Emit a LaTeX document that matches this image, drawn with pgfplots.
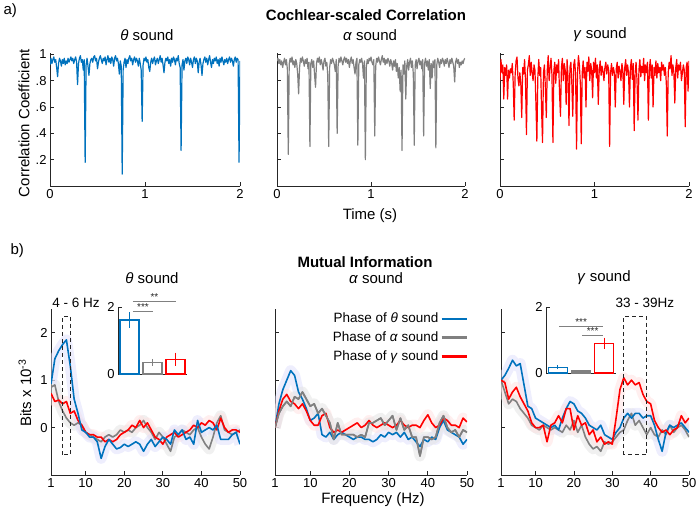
\documentclass[border=0pt]{standalone}
\usepackage{fontspec}
\setmainfont{Liberation Sans}
\usepackage{pgfplots}
\usepackage{pgfplotstable}
\pgfplotsset{compat=1.18}
\newcommand{\fs}[1]{\fontsize{#1bp}{#1bp}\selectfont}
\definecolor{mblue}{HTML}{0072BD}
\definecolor{mred}{HTML}{FF0000}
\definecolor{mgray}{HTML}{808080}
\definecolor{axc}{HTML}{262626}
\definecolor{bblue}{RGB}{222,222,252}
\definecolor{bred}{RGB}{255,224,224}
\definecolor{bgray}{RGB}{226,226,226}

\pgfplotstableread[row sep=\\]{
f b g r\\
1 0.92 0.85 0.72\\ 2 1.45 0.90 0.55\\ 3 1.62 0.55 0.58\\ 4 1.75 0.35 0.50\\ 5 1.85 0.20 0.55\\
6 1.30 0.10 0.30\\ 7 0.60 0.05 0.35\\ 8 0.30 0.10 0.15\\ 9 -0.05 0.05 0.05\\ 10 -0.10 -0.10 -0.10\\
11 -0.20 -0.15 -0.15\\ 12 -0.20 -0.20 -0.15\\ 13 -0.30 -0.25 -0.20\\ 14 -0.65 -0.30 -0.20\\ 15 -0.40 -0.20 -0.30\\
16 -0.25 -0.15 -0.25\\ 17 -0.35 -0.20 -0.30\\ 18 -0.45 -0.15 -0.25\\ 19 -0.42 -0.05 -0.15\\ 20 -0.35 -0.10 -0.10\\
21 -0.40 -0.05 -0.05\\ 22 -0.35 -0.10 0.05\\ 23 -0.30 0.00 0.00\\ 24 -0.35 0.05 0.15\\ 25 -0.50 0.15 0.00\\
26 -0.35 0.00 0.10\\ 27 -0.25 -0.10 -0.05\\ 28 -0.40 -0.25 -0.20\\ 29 -0.30 -0.10 -0.25\\ 30 -0.20 -0.20 -0.35\\
31 -0.25 -0.35 -0.20\\ 32 -0.35 -0.50 -0.15\\ 33 -0.05 -0.20 -0.10\\ 34 -0.15 -0.15 -0.20\\ 35 -0.05 -0.05 -0.15\\
36 -0.25 -0.10 -0.10\\ 37 -0.20 -0.15 -0.05\\ 38 -0.35 -0.05 0.05\\ 39 0.15 0.00 0.00\\ 40 -0.10 -0.20 0.10\\
41 -0.05 -0.35 0.05\\ 42 0.00 -0.45 0.15\\ 43 -0.05 -0.20 0.10\\ 44 0.05 0.10 -0.05\\ 45 -0.25 0.25 0.20\\
46 -0.25 -0.05 0.00\\ 47 -0.25 -0.10 -0.10\\ 48 -0.15 -0.15 -0.05\\ 49 -0.10 -0.10 -0.05\\ 50 -0.35 -0.05 -0.10\\
}\tblA

\pgfplotstableread[row sep=\\]{
f b g r\\
1 0.00 0.00 0.00\\ 2 0.50 0.30 0.35\\ 3 0.80 0.45 0.60\\ 4 1.00 0.55 0.70\\ 5 1.20 0.45 0.55\\
6 1.10 0.65 0.50\\ 7 0.75 0.60 0.40\\ 8 0.60 0.75 0.50\\ 9 0.40 0.60 0.35\\ 10 0.15 0.45 0.15\\
11 0.20 0.50 0.05\\ 12 0.30 0.30 0.05\\ 13 -0.15 0.40 0.25\\ 14 -0.20 0.25 0.30\\ 15 -0.10 0.10 0.00\\
16 -0.25 -0.25 -0.10\\ 17 -0.15 0.10 -0.05\\ 18 -0.10 -0.15 -0.10\\ 19 -0.15 -0.15 -0.05\\ 20 -0.20 -0.15 0.00\\
21 -0.25 -0.15 0.05\\ 22 -0.20 -0.20 0.10\\ 23 -0.20 -0.15 0.00\\ 24 -0.25 -0.20 0.05\\ 25 -0.25 0.10 0.15\\
26 -0.30 0.10 0.05\\ 27 -0.25 0.15 0.00\\ 28 -0.15 0.20 0.05\\ 29 -0.20 0.05 0.10\\ 30 -0.10 0.15 0.05\\
31 -0.15 0.25 0.00\\ 32 -0.10 -0.05 0.05\\ 33 -0.20 0.20 0.15\\ 34 -0.10 -0.05 0.05\\ 35 -0.25 0.05 0.00\\
36 -0.20 -0.20 0.05\\ 37 -0.30 -0.20 0.05\\ 38 -0.40 -0.60 0.00\\ 39 -0.25 -0.20 0.15\\ 40 -0.30 -0.20 0.27\\
41 -0.20 -0.25 0.10\\ 42 -0.25 -0.20 0.00\\ 43 0.00 0.10 0.05\\ 44 0.15 0.25 0.20\\ 45 -0.05 0.00 0.15\\
46 -0.10 -0.10 0.05\\ 47 -0.15 -0.05 0.05\\ 48 -0.20 -0.20 0.00\\ 49 -0.35 -0.05 0.20\\ 50 -0.25 -0.10 0.12\\
}\tblB

\pgfplotstableread[row sep=\\]{
f b g r\\
1 1.00 1.00 1.00\\ 2 1.10 0.75 0.95\\ 3 1.25 0.50 0.60\\ 4 1.42 0.60 0.75\\ 5 1.30 0.55 0.85\\
6 1.35 0.40 0.65\\ 7 0.90 0.30 0.50\\ 8 0.45 0.20 0.35\\ 9 0.40 0.05 0.10\\ 10 0.20 0.00 0.00\\
11 0.15 -0.05 0.00\\ 12 0.10 0.05 0.05\\ 13 0.05 0.00 -0.30\\ 14 0.00 -0.05 0.05\\ 15 0.05 0.00 0.10\\
16 -0.05 -0.05 0.25\\ 17 0.20 -0.10 0.10\\ 18 0.40 0.05 0.40\\ 19 0.55 -0.05 0.40\\ 20 0.50 0.15 -0.05\\
21 0.35 -0.10 0.25\\ 22 0.30 0.05 0.05\\ 23 0.20 -0.20 0.10\\ 24 0.05 -0.35 -0.15\\ 25 0.00 -0.45 -0.05\\
26 -0.05 -0.40 -0.30\\ 27 0.05 -0.50 -0.20\\ 28 -0.15 -0.30 -0.35\\ 29 -0.20 -0.35 -0.30\\ 30 -0.25 -0.30 -0.35\\
31 -0.10 -0.20 0.20\\ 32 0.00 -0.10 0.80\\ 33 0.20 -0.05 1.05\\ 34 0.30 0.15 0.90\\ 35 0.20 0.30 1.00\\
36 0.30 0.05 0.90\\ 37 0.30 0.15 0.95\\ 38 0.20 0.00 0.70\\ 39 0.25 -0.15 0.55\\ 40 0.25 0.00 0.50\\
41 0.05 -0.15 0.15\\ 42 -0.25 -0.20 0.00\\ 43 -0.50 -0.05 -0.10\\ 44 -0.10 -0.15 -0.05\\ 45 0.05 0.05 -0.15\\
46 0.00 -0.10 -0.05\\ 47 0.05 0.00 0.00\\ 48 0.10 0.05 0.25\\ 49 0.00 -0.05 0.10\\ 50 -0.10 -0.20 0.20\\
}\tblC

\pgfplotsset{
  base/.style={scale only axis, axis x line*=bottom, axis y line*=left,
    tick align=inside, axis line style={axc, line width=0.8bp},
    major tick style={axc, line width=0.8bp}, major tick length=4bp,
    tick label style={font=\fs{13}, text=black},
    /pgf/number format/assume math mode=true, anchor=south west},
  top/.style={base, height=133bp, xmin=0, xmax=200, ymin=0, ymax=1.01,
    xtick={0,100,200}, xticklabels={0,1,2}, ytick={0.2,0.4,0.6,0.8,1}},
  bot/.style={base, height=166bp, xmin=1, xmax=50, ymin=-1, ymax=2.5,
    xtick={1,10,20,30,40,50}, ytick={0,1,2}, clip mode=individual},
  ins/.style={base, width=69bp, height=67bp, xmin=0.5, xmax=3.5, ymin=0, ymax=2,
    ytick={0,2}, xtick=\empty, clip=false, ybar, bar width=19bp, bar shift=0pt,
    tick label style={font=\fs{13}}},
  band/.style={line width=11bp, line join=round, line cap=butt, forget plot, draw opacity=0.5},
  ln/.style={line width=1.6bp, line join=round},
}

\begin{document}
\begin{tikzpicture}
\path[use as bounding box] (0,0) rectangle (699bp,-520bp);

% ---------- top row ----------
\begin{axis}[top, at={(50bp,-186bp)}, width=190bp, yticklabels={.2,.4,.6,.8,1}]
\addplot[mblue, line width=1.2bp, line join=round] coordinates {
(0,.92)(1,.97)(2,.93)(3,.96)(4,.98)(5,.94)(6,.96)(7,.90)(8,.83)(9,.93)(10,.97)(11,.95)(12,.91)(13,.96)(14,.93)(15,.97)(16,.92)(17,.95)(18,.93)(19,.97)
(20,.94)(21,.96)(22,.98)(23,.95)(24,.97)(25,.93)(26,.96)(27,.98)(28,.94)(29,.77)(30,.93)(31,.97)(32,.99)(33,.94)(34,.96)(35,.88)(36,.96)(37,.18)(38,.92)(39,.97)
(40,.91)(41,.84)(42,.93)(43,.96)(44,.97)(45,.94)(46,.98)(47,.99)(48,.95)(49,.97)(50,.89)(51,.94)(52,.97)(53,.99)(54,.96)(55,.93)(56,.97)(57,.95)(58,.98)(59,.92)
(60,.96)(61,.99)(62,.94)(63,.97)(64,.93)(65,.98)(66,.96)(67,.91)(68,.97)(69,.99)(70,.95)(71,.97)(72,.93)(73,.85)(74,.95)(75,.91)(76,.09)(77,.88)(78,.94)(79,.97)
(80,.90)(81,.96)(82,.93)(83,.97)(84,.99)(85,.95)(86,.97)(87,.92)(88,.96)(89,.98)(90,.94)(91,.97)(92,.95)(93,.91)(94,.97)(95,.93)(96,.88)(97,.49)(98,.92)(99,.97)
(100,.95)(101,.98)(102,.94)(103,.96)(104,.90)(105,.87)(106,.94)(107,.97)(108,.93)(109,.96)(110,.98)(111,.92)(112,.95)(113,.97)(114,.93)(115,.96)(116,.99)(117,.94)(118,.97)(119,.92)
(120,.86)(121,.94)(122,.97)(123,.95)(124,.98)(125,.93)(126,.96)(127,.91)(128,.97)(129,.94)(130,.98)(131,.96)(132,.92)(133,.97)(134,.95)(135,.99)(136,.93)(137,.90)(138,.27)(139,.92)
(140,.96)(141,.88)(142,.95)(143,.97)(144,.93)(145,.98)(146,.96)(147,.92)(148,.97)(149,.94)(150,.90)(151,.96)(152,.98)(153,.93)(154,.97)(155,.95)(156,.86)(157,.94)(158,.97)(159,.92)
(160,.84)(161,.93)(162,.96)(163,.98)(164,.94)(165,.97)(166,.92)(167,.96)(168,.99)(169,.94)(170,.90)(171,.96)(172,.93)(173,.97)(174,.95)(175,.98)(176,.93)(177,.96)(178,.91)(179,.97)
(180,.94)(181,.98)(182,.95)(183,.92)(184,.96)(185,.94)(186,.97)(187,.93)(188,.96)(189,.98)(190,.94)(191,.97)(192,.95)(193,.91)(194,.96)(195,.98)(196,.94)(197,.97)(198,.96)(199,.18)(200,.95)
};
\end{axis}

\begin{axis}[top, at={(277bp,-186bp)}, width=188bp, yticklabels={}]
\addplot[mgray, line width=1.2bp, line join=round] coordinates {
(0,.95)(1,.97)(2,.93)(3,.96)(4,.92)(5,.95)(6,.90)(7,.94)(8,.97)(9,.92)(10,.96)(11,.89)(12,.24)(13,.93)(14,.97)(15,.94)(16,.98)(17,.92)(18,.95)(19,.90)
(20,.96)(21,.93)(22,.85)(23,.70)(24,.90)(25,.97)(26,.94)(27,.98)(28,.95)(29,.91)(30,.96)(31,.93)(32,.97)(33,.89)(34,.94)(35,.30)(36,.93)(37,.96)(38,.90)(39,.95)
(40,.84)(41,.75)(42,.93)(43,.97)(44,.94)(45,.98)(46,.92)(47,.96)(48,.93)(49,.88)(50,.95)(51,.97)(52,.91)(53,.94)(54,.84)(55,.30)(56,.90)(57,.96)(58,.93)(59,.97)
(60,.95)(61,.92)(62,.87)(63,.96)(64,.40)(65,.91)(66,.97)(67,.94)(68,.98)(69,.95)(70,.92)(71,.96)(72,.98)(73,.94)(74,.97)(75,.93)(76,.96)(77,.90)(78,.95)(79,.98)
(80,.93)(81,.96)(82,.90)(83,.85)(84,.94)(85,.97)(86,.31)(87,.92)(88,.96)(89,.94)(90,.97)(91,.93)(92,.82)(93,.95)(94,.20)(95,.90)(96,.96)(97,.93)(98,.97)(99,.95)
(100,.98)(101,.94)(102,.92)(103,.96)(104,.38)(105,.91)(106,.97)(107,.94)(108,.98)(109,.95)(110,.92)(111,.96)(112,.99)(113,.94)(114,.97)(115,.92)(116,.96)(117,.93)(118,.97)(119,.95)
(120,.91)(121,.96)(122,.93)(123,.88)(124,.95)(125,.91)(126,.96)(127,.87)(128,.93)(129,.82)(130,.90)(131,.72)(132,.88)(133,.27)(134,.92)(135,.85)(136,.95)(137,.66)(138,.91)(139,.96)
(140,.88)(141,.94)(142,.97)(143,.90)(144,.95)(145,.85)(146,.31)(147,.92)(148,.96)(149,.89)(150,.95)(151,.97)(152,.92)(153,.95)(154,.89)(155,.96)(156,.38)(157,.93)(158,.97)(159,.91)
(160,.95)(161,.88)(162,.96)(163,.74)(164,.93)(165,.82)(166,.95)(167,.90)(168,.96)(169,.29)(170,.92)(171,.97)(172,.94)(173,.90)(174,.96)(175,.93)(176,.97)(177,.95)(178,.91)(179,.96)
(180,.93)(181,.97)(182,.94)(183,.90)(184,.96)(185,.93)(186,.97)(187,.94)(188,.91)(189,.79)(190,.94)(191,.97)(192,.93)(193,.96)(194,.90)(195,.94)(196,.92)(197,.95)(198,.93)(199,.96)(200,.97)
};
\end{axis}

\begin{axis}[top, at={(500bp,-186bp)}, width=189bp, yticklabels={}]
\addplot[mred, line width=1.2bp, line join=round] coordinates {
(0,.80)(1,.96)(2,.86)(3,.92)(4,.66)(5,.90)(6,.84)(7,.92)(8,.66)(9,.88)(10,.82)(11,.89)(12,.86)(13,.93)(14,.78)(15,.50)(16,.84)(17,.95)(18,.98)(19,.82)
(20,.76)(21,.86)(22,.78)(23,.52)(24,.90)(25,.85)(26,.96)(27,.80)(28,.39)(29,.88)(30,.92)(31,.99)(32,.84)(33,.94)(34,.86)(35,.80)(36,.92)(37,.88)(38,.63)(39,.34)
(40,.82)(41,.96)(42,.84)(43,.90)(44,.58)(45,.33)(46,.86)(47,.92)(48,.75)(49,.52)(50,.88)(51,.99)(52,.80)(53,.90)(54,.97)(55,.84)(56,.33)(57,.88)(58,.94)(59,.78)
(60,.92)(61,.86)(62,.96)(63,.70)(64,.53)(65,.90)(66,.97)(67,.80)(68,.93)(69,.88)(70,.62)(71,.96)(72,.82)(73,.46)(74,.90)(75,.94)(76,.78)(77,.53)(78,.92)(79,.96)
(80,.84)(81,.28)(82,.85)(83,.99)(84,.92)(85,.78)(86,.32)(87,.86)(88,.95)(89,.82)(90,.90)(91,.60)(92,.94)(93,.87)(94,.98)(95,.80)(96,.93)(97,.88)(98,.67)(99,.94)
(100,.86)(101,.97)(102,.82)(103,.92)(104,.62)(105,.88)(106,.95)(107,.84)(108,.91)(109,.87)(110,.80)(111,.90)(112,.94)(113,.85)(114,.92)(115,.88)(116,.30)(117,.86)(118,.93)(119,.84)
(120,.90)(121,.86)(122,.60)(123,.89)(124,.94)(125,.82)(126,.91)(127,.87)(128,.80)(129,.93)(130,.88)(131,.62)(132,.90)(133,.96)(134,.84)(135,.92)(136,.86)(137,.60)(138,.90)(139,.96)
(140,.81)(141,.93)(142,.42)(143,.86)(144,.94)(145,.80)(146,.50)(147,.88)(148,.96)(149,.83)(150,.91)(151,.86)(152,.97)(153,.80)(154,.92)(155,.86)(156,.94)(157,.50)(158,.88)(159,.96)
(160,.82)(161,.92)(162,.60)(163,.90)(164,.84)(165,.95)(166,.82)(167,.93)(168,.86)(169,.90)(170,.80)(171,.94)(172,.88)(173,.92)(174,.84)(175,.90)(176,.78)(177,.38)(178,.86)(179,.94)
(180,.89)(181,.99)(182,.84)(183,.92)(184,.86)(185,.63)(186,.90)(187,.96)(188,.82)(189,.92)(190,.88)(191,.94)(192,.80)(193,.86)(194,.92)(195,.88)(196,.45)(197,.90)(198,.94)(199,.72)(200,.95)
};
\end{axis}

% ---------- bottom row ----------
\begin{axis}[bot, at={(51bp,-475bp)}, width=189bp]
\addplot[band, bgray] table[x=f,y=g]{\tblA};
\addplot[band, bred] table[x=f,y=r]{\tblA};
\addplot[band, bblue] table[x=f,y=b]{\tblA};
\addplot[ln, mgray] table[x=f,y=g]{\tblA};
\addplot[ln, mred] table[x=f,y=r]{\tblA};
\addplot[ln, mblue] table[x=f,y=b]{\tblA};
\draw[axc, line width=1bp, dash pattern=on 4bp off 3bp] (axis cs:4,-0.57) rectangle (axis cs:6,2.35);
\node[font=\fs{13.5}] at (axis cs:7.5,2.64) {4 - 6 Hz};
\end{axis}

\begin{axis}[bot, at={(275bp,-475bp)}, width=192bp, yticklabels={},
  legend plot pos=right, legend cell align=right,
  legend style={draw=none, fill=none, at={(1,1)}, anchor=north east, xshift=4bp,
    font=\fs{13.5}, row sep=3.5bp},
  legend image code/.code={\draw[#1, line width=2.4bp] (0bp,0bp) -- (25bp,0bp);}]
\addplot[band, bblue] table[x=f,y=b]{\tblB};
\addplot[band, bred] table[x=f,y=r]{\tblB};
\addplot[band, bgray] table[x=f,y=g]{\tblB};
\addplot[ln, mblue] table[x=f,y=b]{\tblB};
\addlegendentry{Phase of \textit{θ} sound}
\addplot[ln, mgray] table[x=f,y=g]{\tblB};
\addlegendentry{Phase of \textit{α} sound}
\addplot[ln, mred] table[x=f,y=r]{\tblB};
\addlegendentry{Phase of \textit{γ} sound}
\addplot[ln, mgray, forget plot] table[x=f,y=g]{\tblB};
\end{axis}

\begin{axis}[bot, at={(501bp,-475bp)}, width=188bp, yticklabels={}]
\addplot[band, bgray] table[x=f,y=g]{\tblC};
\addplot[band, bblue] table[x=f,y=b]{\tblC};
\addplot[band, bred] table[x=f,y=r]{\tblC};
\addplot[ln, mgray] table[x=f,y=g]{\tblC};
\addplot[ln, mblue] table[x=f,y=b]{\tblC};
\addplot[ln, mred] table[x=f,y=r]{\tblC};
\draw[axc, line width=1bp, dash pattern=on 4bp off 3bp] (axis cs:33,-0.57) rectangle (axis cs:39,2.35);
\node[font=\fs{13.5}] at (axis cs:38.5,2.64) {33 - 39Hz};
\end{axis}

% ---------- insets ----------
\begin{axis}[ins, at={(118bp,-374bp)}]
\addplot[draw=mblue, fill=white, line width=1.3bp, error bars/.cd, y dir=both, y explicit, error mark=none, error bar style={line width=1.3bp, mblue}] coordinates {(1,1.61) +- (0,0.23)};
\addplot[draw=mgray, fill=white, line width=1.3bp, error bars/.cd, y dir=both, y explicit, error mark=none, error bar style={line width=1.3bp, mgray}] coordinates {(2,0.35) +- (0,0.10)};
\addplot[draw=mred, fill=white, line width=1.3bp, error bars/.cd, y dir=both, y explicit, error mark=none, error bar style={line width=1.3bp, mred}] coordinates {(3,0.44) +- (0,0.20)};
\draw[mgray, line width=0.9bp] (axis cs:1.15,1.88) -- (axis cs:2.02,1.88) node[midway, above, inner sep=0.3bp, font=\fs{10}, text=axc] {***};
\draw[mgray, line width=0.9bp] (axis cs:1.15,2.18) -- (axis cs:3.02,2.18) node[midway, above, inner sep=0.3bp, font=\fs{10}, text=axc] {**};
\end{axis}

\begin{axis}[ins, at={(546bp,-373bp)}, width=70bp, height=66bp]
\addplot[draw=mblue, fill=white, line width=1.3bp, error bars/.cd, y dir=both, y explicit, error mark=none, error bar style={line width=1.3bp, mblue}] coordinates {(1,0.17) +- (0,0.06)};
\addplot[draw=mgray, fill=white, line width=1.3bp, error bars/.cd, y dir=both, y explicit, error mark=none, error bar style={line width=1.3bp, mgray}] coordinates {(2,0.06) +- (0,0.03)};
\addplot[draw=mred, fill=white, line width=1.3bp, error bars/.cd, y dir=both, y explicit, error mark=none, error bar style={line width=1.3bp, mred}] coordinates {(3,0.90) +- (0,0.17)};
\draw[mgray, line width=0.9bp] (axis cs:1.06,1.42) -- (axis cs:2.95,1.42) node[midway, above, inner sep=0.3bp, font=\fs{10}, text=axc] {***};
\draw[mgray, line width=0.9bp] (axis cs:2.05,1.15) -- (axis cs:2.95,1.15) node[midway, above, inner sep=0.3bp, font=\fs{10}, text=axc] {***};
\end{axis}

% ---------- texts ----------
\node[anchor=west, font=\fs{15}] at (0bp,-11bp) {a)};
\node[font=\bfseries\fs{15}] at (366bp,-15bp) {Cochlear-scaled Correlation};
\node[font=\fs{15}] at (147bp,-35bp) {\textit{θ} sound};
\node[font=\fs{15}] at (370bp,-35bp) {\textit{α} sound};
\node[font=\fs{15}] at (600bp,-35bp) {\textit{γ} sound};
\node[rotate=90, font=\fs{15}] at (24bp,-123bp) {Correlation Coefficient};
\node[font=\fs{15}] at (370bp,-216bp) {Time (s)};
\node[anchor=west, font=\fs{15}] at (7bp,-251bp) {b)};
\node[font=\bfseries\fs{15}] at (365bp,-262bp) {Mutual Information};
\node[font=\fs{15}] at (152bp,-278bp) {\textit{θ} sound};
\node[font=\fs{15}] at (376bp,-278bp) {\textit{α} sound};
\node[font=\fs{15}] at (604bp,-278bp) {\textit{γ} sound};
\node[rotate=90, font=\fs{15}] at (25bp,-393bp) {Bits x 10\textsuperscript{-3}};
\node[font=\fs{15}] at (373bp,-500bp) {Frequency (Hz)};
\end{tikzpicture}
\end{document}
